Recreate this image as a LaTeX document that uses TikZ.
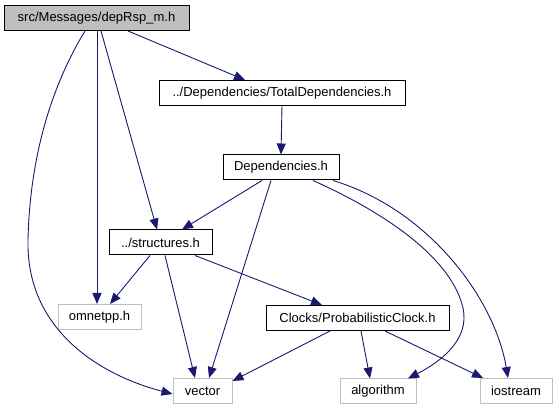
\documentclass[tikz,border=0pt]{standalone}
\usepackage{fontspec}
\setmainfont{Liberation Sans}
\usetikzlibrary{arrows.meta}
\definecolor{edge}{HTML}{191970}
\definecolor{lgray}{HTML}{BFBFBF}
\tikzset{
  box/.style={draw=black, line width=1pt, fill=white, inner sep=0pt, minimum height=25pt, font=\fontsize{13}{15}\selectfont},
  rootbox/.style={box, fill=lgray},
  sysbox/.style={box, draw=lgray},
  dep/.style={draw=edge, line width=0.9pt, -{Triangle[length=11pt,width=9pt]}}
}
\begin{document}
\begin{tikzpicture}[x=1pt,y=-1pt]
\useasboundingbox (0,0) rectangle (558,411);
\node[rootbox, minimum width=185pt] (root) at (96.5,18) {src/Messages/depRsp\_m.h};
\node[box, minimum width=246pt] (total) at (282,93) {../Dependencies/TotalDependencies.h};
\node[box, minimum width=116pt] (deps) at (281,167.5) {Dependencies.h};
\node[box, minimum width=103pt] (struct) at (160.5,242.5) {../structures.h};
\node[sysbox, minimum width=83pt] (omnet) at (99.5,317) {omnetpp.h};
\node[box, minimum width=183pt] (clock) at (357.5,318) {Clocks/ProbabilisticClock.h};
\node[sysbox, minimum width=59pt] (vector) at (202.5,391) {vector};
\node[sysbox, minimum width=76pt] (algo) at (378,391.5) {algorithm};
\node[sysbox, minimum width=72pt] (ios) at (516,391) {iostream};

\draw[dep] ([xshift=31.5pt]root.south) -- ([xshift=-37pt]total.north);
\draw[dep] ([xshift=0.5pt]root.south) -- ([xshift=-2.5pt]omnet.north);
\draw[dep] ([xshift=4.5pt]root.south) -- ([xshift=-3.5pt]struct.north);
\draw[dep] ([xshift=-11.5pt]root.south) .. controls (55,80) and (30,150) .. (28,240) .. controls (26,330) and (100,375) .. ([yshift=-3pt]vector.west);
\draw[dep] (total.south) -- (deps.north);
\draw[dep] ([xshift=-19pt]deps.south) -- ([xshift=21.5pt]struct.north);
\draw[dep] ([xshift=-10pt]deps.south) -- ([xshift=6.5pt]vector.north);
\draw[dep] ([xshift=32pt]deps.south) .. controls (390,215) and (452,260) .. (463,308) .. controls (470,340) and (440,362) .. ([xshift=30pt]algo.north);
\draw[dep] ([xshift=52pt]deps.south) .. controls (430,210) and (495,300) .. ([xshift=-8pt]ios.north);
\draw[dep] ([xshift=-10.5pt]struct.south) -- ([xshift=10.5pt]omnet.north);
\draw[dep] ([xshift=4.5pt]struct.south) -- ([xshift=-7.5pt]vector.north);
\draw[dep] ([xshift=34.5pt]struct.south) -- ([xshift=-35.5pt]clock.north);
\draw[dep] ([xshift=-27.5pt]clock.south) -- ([yshift=-3pt]vector.north east);
\draw[dep] ([xshift=3.5pt]clock.south) -- ([xshift=-8pt]algo.north);
\draw[dep] ([xshift=27.5pt]clock.south) -- ([xshift=-33pt]ios.north);
\end{tikzpicture}
\end{document}
